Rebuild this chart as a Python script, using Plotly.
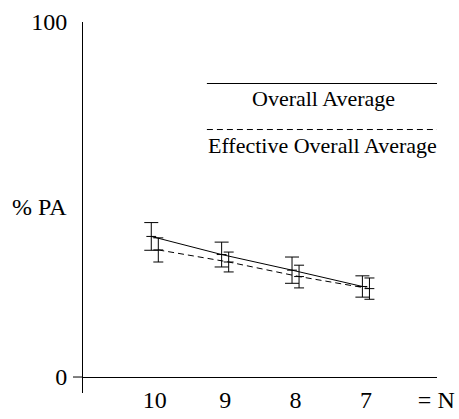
import plotly.graph_objects as go

# Data
categories = ["10", "9", "8", "7"]
cat_pos = [1, 2, 3, 4]
overall_avg = [39.6, 34.5, 30.1, 25.5]
overall_err = [3.9, 3.5, 3.7, 3.0]
effective_avg = [35.8, 32.4, 28.3, 24.9]
effective_err = [3.4, 2.8, 3.2, 3.0]
tick_vals = [1, 2, 3, 4, 5]
tick_text = categories + ["= N"]
dodge = 0.05

FONT = "Liberation Serif, Times New Roman, serif"
BLACK = "black"

fig = go.Figure()

fig.add_trace(go.Scatter(
    x=[p - dodge for p in cat_pos], y=overall_avg,
    mode="lines+markers",
    line=dict(color=BLACK, width=1),
    marker=dict(symbol="line-ew", size=7, line=dict(color=BLACK, width=1)),
    error_y=dict(type="data", array=overall_err, visible=True,
                 color=BLACK, thickness=1, width=7),
    name="Overall Average", showlegend=False,
))

fig.add_trace(go.Scatter(
    x=[p + dodge for p in cat_pos], y=effective_avg,
    mode="lines+markers",
    line=dict(color=BLACK, width=1, dash="6px,4px"),
    marker=dict(symbol="line-ew", size=7, line=dict(color=BLACK, width=1)),
    error_y=dict(type="data", array=effective_err, visible=True,
                 color=BLACK, thickness=1, width=5),
    name="Effective Overall Average", showlegend=False,
))

shapes = [
    # tick at 0 on the y axis
    dict(type="line", xref="paper", xsizemode="pixel", xanchor=0,
         x0=-10, x1=0, yref="y", y0=0, y1=0,
         line=dict(color=BLACK, width=1)),
    # custom legend lines
    dict(type="line", xref="paper", yref="paper", x0=0.35, x1=1.0,
         y0=0.8342, y1=0.8342, line=dict(color=BLACK, width=1)),
    dict(type="line", xref="paper", yref="paper", x0=0.35, x1=1.0,
         y0=0.7102, y1=0.7102, line=dict(color=BLACK, width=1, dash="6px,4px")),
]

annotations = [
    dict(text="Overall Average", xref="paper", yref="paper", x=0.68, y=0.7925,
         xanchor="center", yanchor="middle",
         showarrow=False, font=dict(family=FONT, size=22, color=BLACK)),
    dict(text="Effective Overall Average", xref="paper", yref="paper", x=0.677, y=0.6658,
         xanchor="center", yanchor="middle",
         showarrow=False, font=dict(family=FONT, size=22, color=BLACK)),
    dict(text="% PA", xref="paper", yref="paper", x=0, y=0.501, xanchor="right",
         yanchor="middle", xshift=-14, showarrow=False,
         font=dict(family=FONT, size=24, color=BLACK)),
]

fig.update_layout(
    width=459, height=419,
    margin=dict(l=83, r=22, t=22, b=26),
    paper_bgcolor="white", plot_bgcolor="white",
    font=dict(family=FONT, size=24, color=BLACK),
    shapes=shapes, annotations=annotations,
    showlegend=False,
    xaxis=dict(range=[-0.02, 5.01], tickvals=tick_vals, ticktext=tick_text,
               showgrid=False, zeroline=False, showline=False, ticks="",
               automargin=False, ticklabelstandoff=-10,
               tickfont=dict(family=FONT, size=24, color=BLACK)),
    yaxis=dict(range=[-4.5, 100], tickvals=[0, 100], ticktext=["0", "100"],
               showgrid=False, zeroline=True, zerolinecolor=BLACK, zerolinewidth=1,
               showline=True, linecolor=BLACK, linewidth=1, ticks="",
               ticklabelstandoff=10, automargin=False,
               tickfont=dict(family=FONT, size=24, color=BLACK)),
)

fig.write_html("out.html")
